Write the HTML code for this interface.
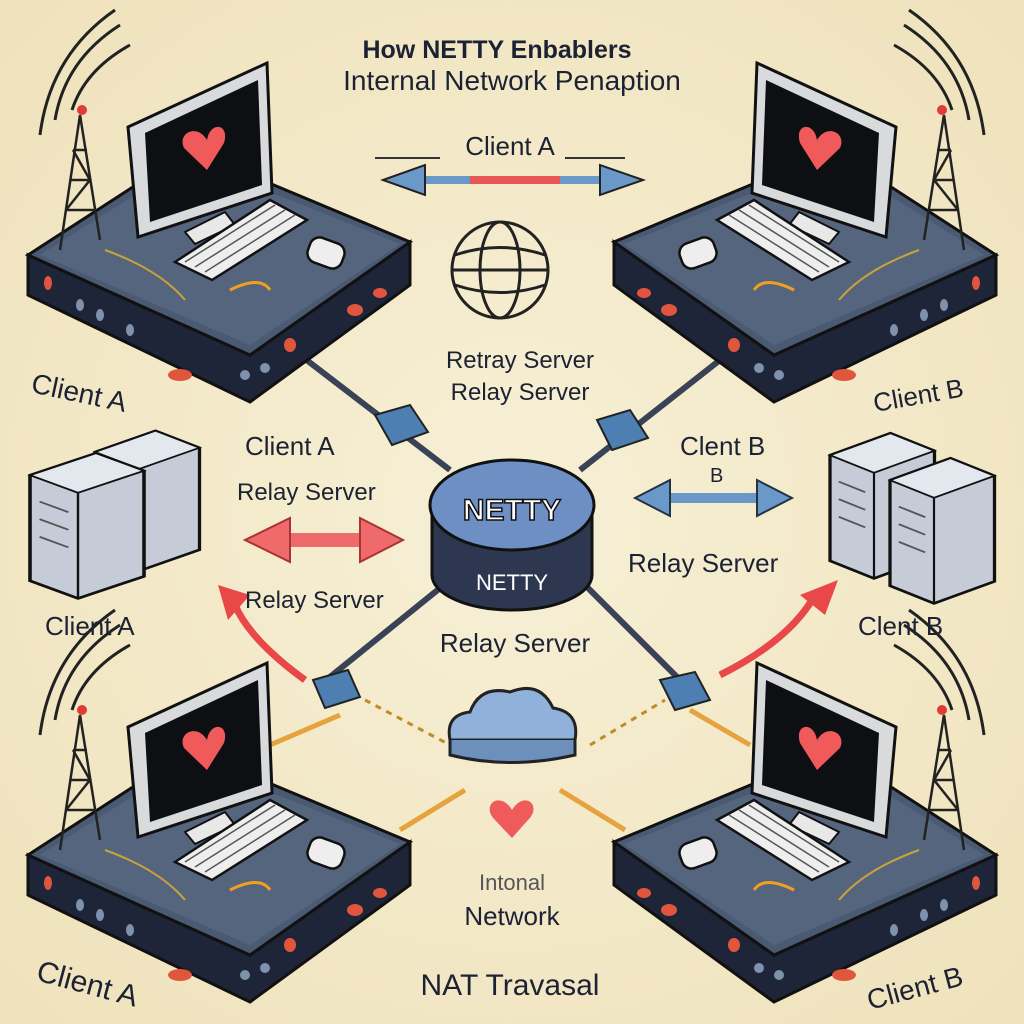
<!DOCTYPE html>
<html><head><meta charset="utf-8"><style>
html,body{margin:0;padding:0;width:1024px;height:1024px;overflow:hidden;background:#f3eacb}
svg{display:block}
text{font-family:"Liberation Sans",sans-serif;fill:#1c2233}
</style></head><body>
<svg width="1024" height="1024" viewBox="0 0 1024 1024" xmlns="http://www.w3.org/2000/svg">
<defs>
<radialGradient id="bg" cx="50%" cy="50%" r="70%"><stop offset="0" stop-color="#f7f0d6"/><stop offset="1" stop-color="#efe2bb"/></radialGradient>
<g id="unit">
  <g fill="none" stroke="#222" stroke-width="3">
    <path d="M55 120 Q65 60 120 25"/><path d="M40 135 Q50 55 115 10"/><path d="M72 110 Q85 70 130 45"/>
  </g>
  <polygon points="28,255 250,355 410,242 410,285 250,402 28,295" fill="#1e2538" stroke="#111" stroke-width="3"/>
  <polygon points="28,255 190,150 410,242 250,355" fill="#4b5a73" stroke="#111" stroke-width="3"/>
  <polygon points="40,255 190,160 400,244 250,345" fill="#56657e"/>
  <g fill="#e0553e"><ellipse cx="48" cy="283" rx="4" ry="7"/><ellipse cx="180" cy="375" rx="12" ry="6"/><ellipse cx="355" cy="310" rx="8" ry="6"/><ellipse cx="380" cy="293" rx="7" ry="5"/><ellipse cx="290" cy="345" rx="6" ry="7"/></g>
  <g fill="#7f92ad"><ellipse cx="80" cy="305" rx="4" ry="6"/><ellipse cx="100" cy="315" rx="4" ry="6"/><ellipse cx="130" cy="330" rx="4" ry="6"/><ellipse cx="245" cy="375" rx="5" ry="5"/><ellipse cx="265" cy="368" rx="5" ry="5"/></g>
  <g stroke="#222" stroke-width="2.5" fill="none"><path d="M60 250 L80 115 L100 240"/><path d="M66 210 L94 210 M70 180 L90 180 M73 150 L87 150 M66 210 L90 180 L73 150"/></g>
  <circle cx="82" cy="110" r="5" fill="#e03b3b"/>
  <polygon points="128,127 267,63 272,193 138,237" fill="#d9dadb" stroke="#111" stroke-width="3"/>
  <polygon points="145,133 258,80 262,185 150,222" fill="#0e0f12"/>
  <path d="M207 140 C197 123 177 133 184 148 L207 170 L224 143 C230 123 210 121 207 140Z" fill="#f05a5a"/>
  <polygon points="185,232 225,212 235,225 195,244" fill="#e8e8e8" stroke="#111" stroke-width="2"/>
  <polygon points="175,262 270,200 307,220 212,280" fill="#eee" stroke="#111" stroke-width="2.5"/>
  <g stroke="#555" stroke-width="1.5"><path d="M185 262 L275 205 M195 267 L285 210 M205 272 L295 215"/></g>
  <rect x="308" y="240" width="36" height="26" rx="10" fill="#eee" stroke="#111" stroke-width="2.5" transform="rotate(20 326 253)"/>
  <path d="M105 250 Q160 270 185 300" fill="none" stroke="#c9a23a" stroke-width="2"/>
  <path d="M230 290 Q260 275 270 290" fill="none" stroke="#f0a020" stroke-width="3"/>
</g>
<g id="srv">
  <polygon points="0,40 55,15 95,35 95,155 40,180 0,160" fill="#c5ccd8" stroke="#111" stroke-width="3"/>
  <polygon points="0,40 55,15 95,35 40,60" fill="#e3e7ee" stroke="#111" stroke-width="2"/>
  <line x1="40" y1="60" x2="40" y2="180" stroke="#111" stroke-width="2"/>
  <g stroke="#555" stroke-width="2"><path d="M8 70 L32 82 M8 90 L32 102 M8 110 L32 122"/></g>
</g>
</defs>
<rect width="1024" height="1024" fill="url(#bg)"/>

<g stroke="#3a4256" stroke-width="6" fill="none">
<path d="M300 355 L450 470"/><path d="M720 360 L580 470"/><path d="M320 685 L450 580"/><path d="M690 690 L580 580"/>
</g>
<g fill="#4d7fb3" stroke="#222" stroke-width="2">
<polygon points="375,415 410,405 428,432 392,445"/><polygon points="597,420 630,410 648,438 612,450"/>
<polygon points="313,680 348,670 360,697 325,708"/><polygon points="660,680 695,672 710,700 675,710"/>
</g>
<g stroke="#e6a23c" stroke-width="5" fill="none"><path d="M270 745 L340 715"/><path d="M400 830 L465 790"/><path d="M560 790 L625 830"/><path d="M690 710 L750 745"/></g>
<g stroke="#c08a2a" stroke-width="3" stroke-dasharray="6 6" fill="none"><path d="M365 700 L450 745"/><path d="M590 745 L665 700"/></g>

<use href="#unit"/>
<use href="#unit" transform="translate(1024,0) scale(-1,1)"/>
<use href="#unit" transform="translate(0,600)"/>
<use href="#unit" transform="translate(1024,600) scale(-1,1)"/>

<use href="#srv" transform="translate(95,418) scale(1.1,0.85)"/>
<use href="#srv" transform="translate(30,440) scale(1.2,0.88)"/>
<use href="#srv" transform="translate(830,420) scale(1.1,0.88)"/>
<use href="#srv" transform="translate(890,445) scale(1.1,0.88)"/>

<line x1="375" y1="158" x2="440" y2="158" stroke="#333" stroke-width="2"/>
<line x1="565" y1="158" x2="625" y2="158" stroke="#333" stroke-width="2"/>
<path d="M420 180 L600 180" stroke="#6a98c8" stroke-width="8"/>
<path d="M470 180 L560 180" stroke="#e85555" stroke-width="8"/>
<polygon points="383,180 425,165 425,195" fill="#6a98c8" stroke="#222" stroke-width="2"/>
<polygon points="643,180 600,165 600,195" fill="#6a98c8" stroke="#222" stroke-width="2"/>

<g fill="none" stroke="#222" stroke-width="3"><circle cx="500" cy="270" r="48"/><ellipse cx="500" cy="270" rx="20" ry="48"/><path d="M455 255 Q500 240 545 255 M455 285 Q500 300 545 285 M452 270 L548 270"/></g>

<path d="M285 540 L365 540" stroke="#ef6a6a" stroke-width="14"/>
<polygon points="245,540 290,518 290,562" fill="#ef6a6a" stroke="#a33" stroke-width="2"/>
<polygon points="403,540 360,518 360,562" fill="#ef6a6a" stroke="#a33" stroke-width="2"/>
<path d="M665 498 L760 498" stroke="#6a98c8" stroke-width="10"/>
<polygon points="635,498 670,480 670,516" fill="#6a98c8" stroke="#234" stroke-width="2"/>
<polygon points="792,498 757,480 757,516" fill="#6a98c8" stroke="#234" stroke-width="2"/>
<path d="M305 680 Q250 640 235 605" stroke="#e84848" stroke-width="7" fill="none"/>
<polygon points="218,585 250,595 228,620" fill="#e84848"/>
<path d="M720 675 Q790 640 815 595" stroke="#e84848" stroke-width="7" fill="none"/>
<polygon points="838,580 825,615 800,595" fill="#e84848"/>

<path d="M432 510 L432 575 A80 35 0 0 0 592 575 L592 510 Z" fill="#2d3850" stroke="#111" stroke-width="3"/>
<ellipse cx="512" cy="505" rx="82" ry="45" fill="#6e8fc4" stroke="#111" stroke-width="3"/>
<text x="512" y="520" font-size="30" text-anchor="middle" stroke="#111" stroke-width="1.5" font-weight="bold" style="fill:#fff">NETTY</text>
<text x="512" y="590" font-size="22" text-anchor="middle" style="fill:#fff">NETTY</text>

<path d="M450 740 Q445 715 470 712 Q480 685 510 692 Q540 680 553 708 Q580 712 575 740 Z" fill="#8fb1da" stroke="#222" stroke-width="3"/>
<path d="M450 740 L450 755 Q510 770 575 755 L575 740" fill="#6d8fbb" stroke="#222" stroke-width="3"/>
<path d="M512 810 C500 790 480 805 495 820 L512 838 L528 820 C543 805 524 790 512 810Z" fill="#ef5a5a"/>

<text x="497" y="58" font-size="25" font-weight="bold" text-anchor="middle">How NETTY Enbablers</text>
<text x="512" y="90" font-size="28" text-anchor="middle">Internal Network Penaption</text>
<text x="510" y="155" font-size="26" text-anchor="middle">Client A</text>
<text x="520" y="368" font-size="24" text-anchor="middle">Retray Server</text>
<text x="520" y="400" font-size="24" text-anchor="middle">Relay Server</text>
<text x="30" y="392" font-size="28" transform="rotate(12 30 392)">Client A</text>
<text x="875" y="412" font-size="26" transform="rotate(-10 875 412)">Client B</text>
<text x="245" y="455" font-size="26">Client A</text>
<text x="237" y="500" font-size="24">Relay Server</text>
<text x="680" y="455" font-size="26">Clent B</text>
<text x="710" y="482" font-size="20">B</text>
<text x="628" y="572" font-size="26">Relay Server</text>
<text x="245" y="608" font-size="24">Relay Server</text>
<text x="45" y="635" font-size="26">Client A</text>
<text x="858" y="635" font-size="26">Clent B</text>
<text x="515" y="652" font-size="26" text-anchor="middle">Relay Server</text>
<text x="512" y="890" font-size="22" text-anchor="middle" style="fill:#555">Intonal</text>
<text x="512" y="925" font-size="26" text-anchor="middle">Network</text>
<text x="510" y="995" font-size="30" text-anchor="middle">NAT Travasal</text>
<text x="35" y="980" font-size="30" transform="rotate(15 35 980)">Client A</text>
<text x="870" y="1010" font-size="28" transform="rotate(-15 870 1010)">Client B</text>
</svg>
</body></html>
